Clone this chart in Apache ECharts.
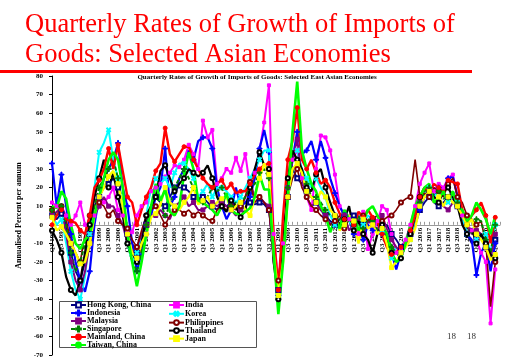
<!DOCTYPE html>
<html><head><meta charset="utf-8">
<script src="https://cdn.jsdelivr.net/npm/echarts@6/dist/echarts.min.js"></script>
<style>html,body{margin:0;padding:0;background:#fff}#c{width:521px;height:360px}</style>
</head><body><div id="c"></div>
<script>
const categories = [
'Q1 1997','Q2 1997','Q3 1997','Q4 1997','Q1 1998','Q2 1998','Q3 1998','Q4 1998',
'Q1 1999','Q2 1999','Q3 1999','Q4 1999','Q1 2000','Q2 2000','Q3 2000','Q4 2000',
'Q1 2001','Q2 2001','Q3 2001','Q4 2001','Q1 2002','Q2 2002','Q3 2002','Q4 2002',
'Q1 2003','Q2 2003','Q3 2003','Q4 2003','Q1 2004','Q2 2004','Q3 2004','Q4 2004',
'Q1 2005','Q2 2005','Q3 2005','Q4 2005','Q1 2006','Q2 2006','Q3 2006','Q4 2006',
'Q1 2007','Q2 2007','Q3 2007','Q4 2007','Q1 2008','Q2 2008','Q3 2008','Q4 2008',
'Q1 2009','Q2 2009','Q3 2009','Q4 2009','Q1 2010','Q2 2010','Q3 2010','Q4 2010',
'Q1 2011','Q2 2011','Q3 2011','Q4 2011','Q1 2012','Q2 2012','Q3 2012','Q4 2012',
'Q1 2013','Q2 2013','Q3 2013','Q4 2013','Q1 2014','Q2 2014','Q3 2014','Q4 2014',
'Q1 2015','Q2 2015','Q3 2015','Q4 2015','Q1 2016','Q2 2016','Q3 2016','Q4 2016',
'Q1 2017','Q2 2017','Q3 2017','Q4 2017','Q1 2018','Q2 2018','Q3 2018','Q4 2018',
'Q1 2019','Q2 2019','Q3 2019','Q4 2019','Q1 2020','Q2 2020','Q3 2020','Q4 2020'];

const hongKong = [5,3,6,0, -15,-25,-30,-20, -5,10,15,20, 22,25,20,10, -5,-10,-15,-8, 0,10,15,12,
 10,15,20,20, 20,18,15,12, 15,12,10,8, 12,10,12,10, 10,12,12,11, 12,11,8,-15, -35,-10,15,30,
 25,22,18,15, 12,8,5,2, 0,3,5,2, 5,3,0,2, 3,0,-2,0, -5,-8,-12,-8, -5,2,8,12, 15,12,10,12,
 15,14,10,5, -5,-10,-8,-5, -12,-15,-8];
const india = [12,10,10,5, 0,5,12,0, -5,5,15,12, 15,20,8,5, -3,-4,5,10, 12,18,20,22,
 26,28,32,31, 35,43,38,30, 56,47,51,22, 25,30,28,36, 29,38,20,28, 40,55,75,-5, -30,-10,20,35,
 40,25,15,8, 30,48,47,40, 27,10,5,3, 0,-5,7,-13, -5,2,10,8, -5,-15,-13,-8, 0,10,22,28,
 33,18,22,20, 25,27,15,5, 0,-3,-8,-15, -20,-53,-24];
const indonesia = [33,10,27,10, -5,-20,-30,-36, -25,0,15,25, 30,35,44,20, 10,-10,-25,-15, -5,5,15,20,
 41,10,15,25, 30,40,35,45, 47,47,41,20, 10,3,8,20, 10,12,15,25, 41,51,39,-10, -38,-10,15,35,
 50,38,40,45, 35,45,36,25, 17,10,5,3, -5,5,-8,0, -3,-2,-5,-10, -15,-24,-15,-10, -5,0,8,15,
 20,15,20,18, 25,26,15,5, -5,-8,-27,-15, -10,-25,-10];
const korea = [5,0,3,-10, -25,-35,-40,-28, -5,20,39,44, 51,35,25,10, -10,-20,-15,-5, 5,20,25,22,
 25,20,28,33, 33,30,25,15, 18,22,15,20, 20,18,15,12, 15,20,25,30, 35,40,40,-15, -40,-15,20,40,
 40,30,25,20, 25,20,15,5, 0,-3,5,2, -2,4,0,5, 3,2,-3,-8, -18,-12,-15,-10, -8,5,12,18,
 20,15,18,16, 12,15,12,5, -5,-3,-8,-5, -5,-15,0];
const malaysia = [5,7,10,-5, -20,-30,-35,-25, -10,5,10,15, 10,10,5,0, -10,-15,-12,-5, 0,5,5,8,
 5,3,10,12, 15,10,12,8, 8,10,12,10, 12,10,8,5, 8,15,23,15, 15,12,10,-20, -35,-15,20,35,
 46,25,15,10, 12,8,5,0, 2,0,5,-3, 0,3,-5,2, 0,-3,5,-2, -8,-12,-15,-10, -5,5,12,15,
 18,15,12,10, 8,12,10,5, 0,-5,-3,-5, -10,-18,-5];
const philippines = [8,5,10,3, -10,-15,-20,-5, 5,10,12,10, 5,8,2,0, -2,-8,-12,-3, 5,8,10,5,
 0,5,8,8, 6,8,5,7, 5,3,2,8, 10,8,10,8, 10,15,23,12, 15,12,8,-15, -30,-5,15,25,
 30,20,15,10, 8,5,3,0, 2,5,-2,3, 0,-3,5,2, 3,5,2,4, 5,8,12,14, 15,35,15,17,
 15,20,18,15, 22,25,15,12, 5,3,0,2, -10,-44,-20];
const singapore = [8,5,10,0, -15,-25,-20,-10, 0,10,20,25, 30,35,25,10, -10,-20,-25,-15, 0,10,15,12,
 5,10,20,25, 30,25,20,15, 12,15,20,18, 20,15,10,12, 12,15,20,22, 28,30,25,-10, -40,-15,20,35,
 35,28,22,15, 15,12,8,5, 5,2,0,3, 0,5,-2,3, 2,-3,0,-5, -12,-15,-18,-10, -5,5,12,18,
 20,16,18,14, 15,18,12,8, 0,-5,3,2, -8,-15,0];
const thailand = [-3,-8,-15,-28, -35,-38,-30,-15, 0,15,25,35, 20,28,15,5, -10,-15,-20,-10, 5,10,15,29,
 32,25,18,22, 25,30,28,26, 28,32,25,15, 10,7,13,10, 4,8,20,30, 39,32,30,-20, -40,-15,25,40,
 35,30,20,18, 27,30,20,12, 5,0,3,10, -3,2,-5,-8, -15,-5,0,-8, -15,-20,-18,-10, -5,5,15,20,
 18,15,12,18, 20,15,10,0, -5,-2,-10,-5, -10,-16,-18];
const mainland = [0,5,8,3, 2,1,-3,-5, 5,20,24,30, 41,30,43,29, 15,12,0,8, 15,20,29,33,
 52,38,34,38, 42,42,35,30, 25,22,20,22, 24,19,22,17, 18,18,22,27, 30,32,33,-5, -35,5,35,45,
 63,35,30,35, 28,22,24,20, 12,6,3,5, 0,7,4,8, 4,2,-5,-12, -16,-15,-12,-10, -3,5,15,20,
 18,22,20,18, 24,23,22,8, 0,5,8,12, 5,-10,4];
const japan = [4,-3,-1,-5, -10,-15,-21,-20, -10,5,15,20, 26,29,22,10, -5,-15,-18,-10, -5,4,6,11,
 20,12,10,8, 12,15,20,11, 13,15,10,12, 14,15,8,10, 12,8,5,15, 25,33,27,-15, -38,-20,15,30,
 33,28,18,15, 12,18,15,8, 5,-3,0,5, 2,-10,3,-2, 0,-5,-2,-10, -23,-20,-15,-12, -8,-2,10,15,
 18,12,15,10, 15,12,10,5, 0,3,-5,-8, -12,-19,-16];
const taiwan = [10,9,18,14, 0,-10,-13,-8, -5,5,15,25, 35,39,35,20, -5,-20,-33,-20, -5,10,22,13,
 19,7,5,10, 27,39,30,13, 12,10,8,5, 10,17,8,6, 5,7,9,15, 27,19,19,-15, -48,-20,15,50,
 77,40,30,22, 18,10,5,-4, 3,-2,8,3, 5,-3,2,8, 10,5,0,-5, -15,-20,-18,-10, 0,10,15,20,
 22,12,14,18, 12,18,10,8, 2,5,12,8, 3,-5,5];

const yTicks = [-70,-60,-50,-40,-30,-20,-10,0,10,20,30,40,50,60,70,80];

const SERIF = '"Liberation Serif","Times New Roman",serif';
const PLUS = 'path://M2,0H3V2H5V3H3V5H2V3H0V2H2Z';

const GRID_TOP = 76, GRID_BOTTOM = 5, H = 360;
const plotH = H - GRID_TOP - GRID_BOTTOM;
const yMin = yTicks[0], yMax = yTicks[yTicks.length - 1];
const zeroFromBottom = plotH * (0 - yMin) / (yMax - yMin);

function mk(name, data, color, symbol, size, width, opts) {
  opts = opts || {};
  return {
    name: name, type: 'line', data: data,
    symbol: symbol, symbolSize: size, showSymbol: symbol !== 'none',
    symbolRotate: opts.rotate || 0,
    itemStyle: { color: opts.fill || color, borderColor: color, borderWidth: 1 },
    lineStyle: { color: color, width: width, type: opts.dash ? [4, 2] : 'solid' },
    emphasis: { disabled: true }, z: 2
  };
}

const series = [
  mk('Hong Kong, China', hongKong, '#000080', 'emptyRect', 4, 1.8),
  mk('India', india, '#FF00FF', 'rect', 3, 2),
  mk('Indonesia', indonesia, '#0000FF', PLUS, 5, 2.2),
  mk('Korea', korea, '#00FFFF', PLUS, 5, 2, { rotate: 45 }),
  mk('Malaysia', malaysia, '#800080', 'rect', 4, 2),
  mk('Philippines', philippines, '#800000', 'emptyCircle', 4, 1.6),
  mk('Singapore', singapore, '#008000', PLUS, 5, 2, { dash: true }),
  mk('Thailand', thailand, '#000000', 'emptyCircle', 4, 2.2),
  mk('Mainland, China', mainland, '#FF0000', 'circle', 4, 2.4),
  mk('Japan', japan, '#FFFF00', 'rect', 4, 2.4),
  mk('Taiwan, China', taiwan, '#00FF00', 'none', 0, 2.6)
];

const legendText = { fontFamily: SERIF, fontWeight: 'bold', fontSize: 8, color: '#000', lineHeight: 7.5, padding: [0, 0, 0, -4] };

const option = {
  animation: false,
  backgroundColor: '#fff',
  grid: { left: 52, right: 21, top: GRID_TOP, bottom: GRID_BOTTOM, containLabel: false, outerBoundsMode: 'none' },
  xAxis: {
    type: 'category', data: categories, boundaryGap: false, position: 'bottom',
    offset: -zeroFromBottom,
    axisLine: { onZero: false, lineStyle: { color: '#999', width: 1 } },
    axisTick: { show: true, interval: 0, length: 3, inside: true, lineStyle: { color: '#999' } },
    axisLabel: { interval: 1, rotate: 90, margin: 3, fontFamily: SERIF, fontWeight: 'bold', fontSize: 7, color: '#000', hideOverlap: false },
    splitLine: { show: false }
  },
  yAxis: {
    type: 'value', min: yMin, max: yMax, interval: 10,
    name: 'Annualised Percent per annum', nameLocation: 'middle', nameGap: 25,
    nameTextStyle: { fontFamily: SERIF, fontWeight: 'bold', fontSize: 8, color: '#000' },
    axisLine: { show: true, lineStyle: { color: '#000', width: 1 } },
    axisTick: { show: true, length: 3, lineStyle: { color: '#000' } },
    axisLabel: { margin: 9, fontFamily: SERIF, fontWeight: 'bold', fontSize: 7, color: '#000' },
    splitLine: { show: false }
  },
  legend: [
    { orient: 'vertical', left: 70, top: 301, padding: 0, itemWidth: 15, itemHeight: 6, itemGap: 0,
      selectedMode: false, z: 10, textStyle: legendText,
      data: ['Hong Kong, China', 'Indonesia', 'Malaysia', 'Singapore', 'Mainland, China', 'Taiwan, China'] },
    { orient: 'vertical', left: 168, top: 301, padding: 0, itemWidth: 15, itemHeight: 6, itemGap: 0,
      selectedMode: false, z: 10, textStyle: legendText,
      data: ['India', 'Korea', 'Philippines', 'Thailand', 'Japan'] }
  ],
  graphic: { elements: [
    { type: 'text', x: 25, y: 12, z: 20, style: { text: 'Quarterly Rates of Growth of Imports of', font: '26.5px ' + SERIF, fill: '#FF0000', textVerticalAlign: 'top', verticalAlign: 'top' } },
    { type: 'text', x: 25, y: 42, z: 20, style: { text: 'Goods: Selected Asian Economies', font: '26.5px ' + SERIF, fill: '#FF0000', textVerticalAlign: 'top', verticalAlign: 'top' } },
    { type: 'rect', z: 20, shape: { x: 0, y: 70, width: 472, height: 3 }, style: { fill: '#FF0000' } },
    { type: 'text', x: 257, y: 77, z: 20, style: { text: 'Quarterly Rates of Growth of Imports of Goods: Selected East Asian Economies', font: 'bold 7px ' + SERIF, fill: '#000', textAlign: 'center', align: 'center', textVerticalAlign: 'middle', verticalAlign: 'middle' } },
    { type: 'rect', z: 5, shape: { x: 59.5, y: 301.5, width: 197, height: 46 }, style: { fill: '#fff', stroke: '#555', lineWidth: 1 } },
    { type: 'text', x: 447, y: 337, z: 20, style: { text: '18', font: '9px ' + SERIF, fill: '#333', textVerticalAlign: 'middle', verticalAlign: 'middle' } },
    { type: 'text', x: 467, y: 337, z: 20, style: { text: '18', font: '9px ' + SERIF, fill: '#333', textVerticalAlign: 'middle', verticalAlign: 'middle' } }
  ] },
  series: series
};

const chart = echarts.init(document.getElementById('c'), null, { renderer: 'canvas' });
chart.setOption(option);
</script>
</body></html>
